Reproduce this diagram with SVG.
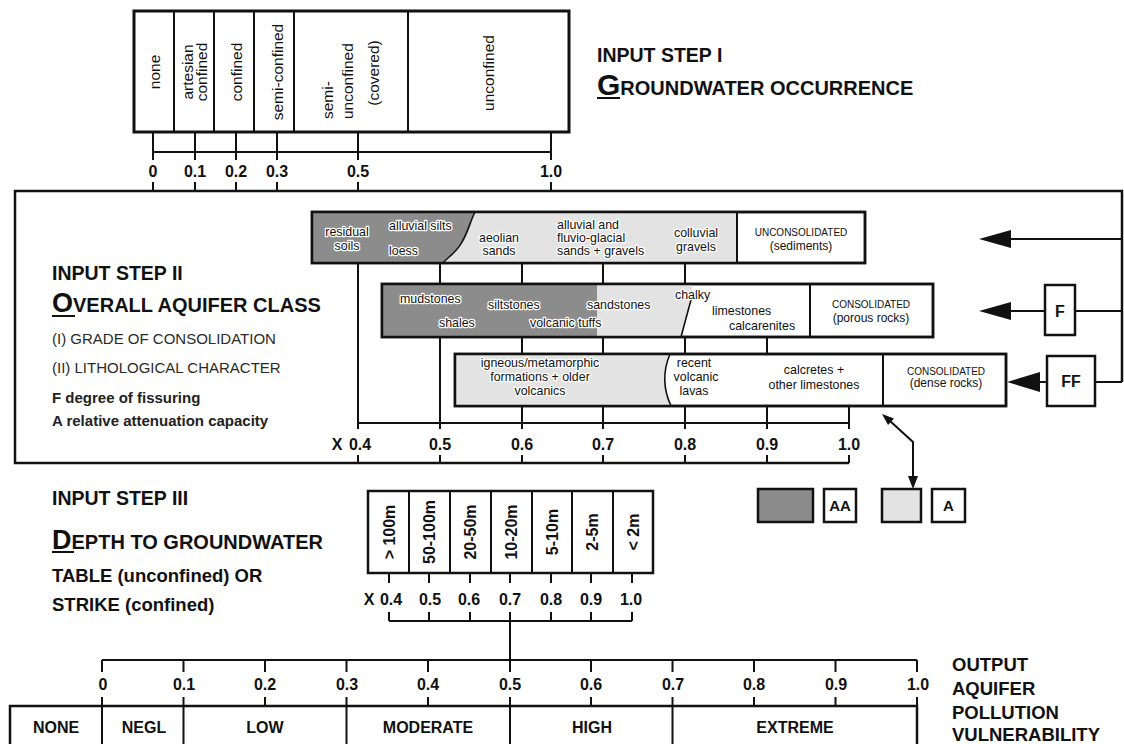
<svg xmlns="http://www.w3.org/2000/svg" width="1124" height="744" viewBox="0 0 1124 744">
<style>
.ln{stroke:#111;stroke-width:2;fill:none}
.bx{stroke:#111;stroke-width:2.5;fill:#fff}
.thin{stroke:#111;stroke-width:1.6;fill:none}
.dk{fill:#8c8c8c}
.lt{fill:#e3e3e3}
.ah{fill:#111}
text{font-family:"Liberation Sans",Arial,Helvetica,sans-serif;fill:#111}
.b{font-weight:bold}
.cell{font-size:15.5px}
.lab{font-size:16px;font-weight:bold;text-anchor:middle}
.rt{font-size:12.4px;stroke:#fff;stroke-width:2.5px;paint-order:stroke;stroke-linejoin:round}
.sc{font-size:10px;text-anchor:middle}
.sc2{font-size:12px;text-anchor:middle}
.m{text-anchor:middle}
.h1{font-size:19.5px;font-weight:bold}
.h2{font-size:20px;font-weight:bold}
.sub{font-size:15px;fill:#2a2a2a}
.sub2{font-size:15px;font-weight:bold;fill:#222}
.h3{font-size:18.5px;font-weight:bold}
.out{font-size:18.5px;font-weight:bold}
.bl{font-size:16px;font-weight:bold;text-anchor:middle}
</style>

<g id="connectors">
  <path class="ln" d="M153,132V160M195,132V160M236,132V160M277,132V160M358,132V160M551,132V160M153,152H551"/>
  <path class="ln" d="M153,182V191M195,182V191M236,182V191M277,182V191M358,182V191M551,182V191"/>
  <path class="bx" style="fill:none" d="M1122,382V191H15V463H849"/>
  <path class="ln" d="M358,263V429M440,263V284M440,337V429M522,263V284M522,337V354M522,406V429M603,263V284M603,337V354M603,406V429M685,263V284M685,337V354M685,406V429M767,337V354M767,406V429M849,406V429M358,423H849"/>
  <path class="ln" d="M358,455V463M440,455V463M522,455V463M603,455V463M685,455V463M767,455V463M849,455V463"/>
  <path class="ln" d="M1008,239H1122M1008,311H1045M1075,311H1122M1038,382H1047M1095,382H1122"/>
  <polygon class="ah" points="979,239 1011,230 1011,248"/>
  <polygon class="ah" points="979,311 1011,302 1011,320"/>
  <polygon class="ah" points="1007,382 1040,372 1040,392"/>
  <path class="ln" d="M890,421L913,442V477"/>
  <polygon class="ah" points="882,414 894,418.5 888,425"/>
  <polygon class="ah" points="913,489 908,476 918,476"/>
  <path class="ln" d="M389,573V583M429,573V583M470,573V583M510,573V583M551,573V583M591,573V583M632,573V583"/>
  <path class="ln" d="M389,612V621M429,612V621M470,612V621M510,612V621M551,612V621M591,612V621M632,612V621M389,621H632M510,621V660"/>
  <path class="ln" d="M102,660H917M102,660V672M183.5,660V672M265,660V672M346.5,660V672M428,660V672M510,660V672M591,660V672M672.5,660V672M754,660V672M835.5,660V672M917,660V672"/>
  <path class="ln" d="M102,697V706M183.5,697V706M265,697V706M346.5,697V706M428,697V706M510,697V706M591,697V706M672.5,697V706M754,697V706M835.5,697V706M917,697V706"/>
</g>

<g id="step1-box">
  <rect class="bx" x="134" y="11" width="435" height="121" style="stroke-width:3"/>
  <path class="ln" d="M174,11V132M214,11V132M254,11V132M294,11V132M408,11V132"/>
  <text class="cell m" transform="translate(154,72) rotate(-90)" dy="5.5">none</text>
  <text class="cell m" transform="translate(187,72) rotate(-90)" dy="5.5">artesian</text>
  <text class="cell m" transform="translate(201,72) rotate(-90)" dy="5.5">confined</text>
  <text class="cell m" transform="translate(236,72) rotate(-90)" dy="5.5">confined</text>
  <text class="cell m" transform="translate(277,72) rotate(-90)" dy="5.5">semi-confined</text>
  <text class="cell" transform="translate(327,119) rotate(-90)" dy="5.5">semi-</text>
  <text class="cell" transform="translate(347,119) rotate(-90)" dy="5.5">unconfined</text>
  <text class="cell m" transform="translate(373,73) rotate(-90)" dy="5.5">(covered)</text>
  <text class="cell m" transform="translate(488,73) rotate(-90)" dy="5.5">unconfined</text>
  <text class="lab" x="153" y="177">0</text>
  <text class="lab" x="195" y="177">0.1</text>
  <text class="lab" x="236" y="177">0.2</text>
  <text class="lab" x="277" y="177">0.3</text>
  <text class="lab" x="358" y="177">0.5</text>
  <text class="lab" x="551" y="177">1.0</text>
</g>

<g id="step1-title">
  <text class="h1" x="597" y="62">INPUT STEP I</text>
  <text class="h2" x="597" y="95"><tspan font-size="30">G</tspan>ROUNDWATER OCCURRENCE</text>
  <line class="ln" x1="597" y1="98" x2="620" y2="98"/>
</g>

<g id="step2-title">
  <text class="h1" x="52" y="280">INPUT STEP II</text>
  <text class="h2" x="52" y="312"><tspan font-size="27">O</tspan>VERALL AQUIFER CLASS</text>
  <line class="ln" x1="52" y1="316" x2="75" y2="316"/>
  <text class="sub" x="52" y="344">(I) GRADE OF CONSOLIDATION</text>
  <text class="sub" x="52" y="373">(II) LITHOLOGICAL CHARACTER</text>
  <text class="sub2" x="52" y="403">F degree of fissuring</text>
  <text class="sub2" x="52" y="426">A relative attenuation capacity</text>
</g>

<g id="row-unconsolidated">
  <rect class="bx" x="312" y="212" width="553" height="51"/>
  <path class="dk" d="M313,213H475C470,222 468,232 462,242C457,252 449,256 443,262H313Z"/>
  <path class="lt" d="M475,213H736V262H443C449,256 457,252 462,242C468,232 470,222 475,213Z"/>
  <path class="thin" d="M475,212C470,222 468,232 462,242C457,252 449,256 443,263"/>
  <path class="ln" d="M737,212V263"/>
  <rect x="312" y="212" width="553" height="51" fill="none" stroke="#111" stroke-width="2.5"/>
  <text class="rt m" x="347" y="236">residual</text>
  <text class="rt m" x="347" y="250">soils</text>
  <text class="rt" x="389" y="230">alluvial silts</text>
  <text class="rt" x="389" y="255">loess</text>
  <text class="rt m" x="499" y="242">aeolian</text>
  <text class="rt m" x="499" y="255">sands</text>
  <text class="rt" x="557" y="229">alluvial and</text>
  <text class="rt" x="557" y="242">fluvio-glacial</text>
  <text class="rt" x="557" y="255">sands + gravels</text>
  <text class="rt m" x="696" y="237">colluvial</text>
  <text class="rt m" x="696" y="251">gravels</text>
  <text class="sc" x="801" y="236">UNCONSOLIDATED</text>
  <text class="sc2" x="801" y="250">(sediments)</text>
</g>

<g id="row-porous">
  <rect class="bx" x="382" y="284" width="551" height="53"/>
  <rect class="dk" x="383" y="285" width="214" height="51"/>
  <path class="lt" d="M597,285H693L681.5,336H597Z"/>
  <path class="thin" d="M692,296L681,337"/>
  <path class="ln" d="M810,284V337"/>
  <rect x="382" y="284" width="551" height="53" fill="none" stroke="#111" stroke-width="2.5"/>
  <text class="rt" x="400" y="303">mudstones</text>
  <text class="rt" x="439" y="327">shales</text>
  <text class="rt" x="488" y="309">siltstones</text>
  <text class="rt" x="530" y="327">volcanic tuffs</text>
  <text class="rt" x="587" y="309">sandstones</text>
  <text class="rt" x="675" y="299">chalky</text>
  <text class="rt" x="712" y="315">limestones</text>
  <text class="rt" x="729" y="330">calcarenites</text>
  <text class="sc" x="871" y="308">CONSOLIDATED</text>
  <text class="sc2" x="871" y="322">(porous rocks)</text>
</g>

<g id="row-dense">
  <rect class="bx" x="455" y="354" width="551" height="52"/>
  <path class="lt" d="M456,355H670Q659,380 671,405H456Z"/>
  <path class="thin" d="M670,354Q659,380 671,406"/>
  <path class="ln" d="M883,354V406"/>
  <rect x="455" y="354" width="551" height="52" fill="none" stroke="#111" stroke-width="2.5"/>
  <text class="rt m" x="540" y="367">igneous/metamorphic</text>
  <text class="rt m" x="540" y="381">formations + older</text>
  <text class="rt m" x="540" y="395">volcanics</text>
  <text class="rt m" x="694" y="367">recent</text>
  <text class="rt m" x="696" y="381">volcanic</text>
  <text class="rt m" x="694" y="395">lavas</text>
  <text class="rt m" x="814" y="374">calcretes +</text>
  <text class="rt m" x="814" y="389">other limestones</text>
  <text class="sc" x="946" y="375">CONSOLIDATED</text>
  <text class="sc2" x="946" y="387">(dense rocks)</text>
</g>

<g id="class-scale">
  <text class="lab" x="337" y="450">X</text>
  <text class="lab" x="360" y="450">0.4</text>
  <text class="lab" x="440" y="450">0.5</text>
  <text class="lab" x="522" y="450">0.6</text>
  <text class="lab" x="603" y="450">0.7</text>
  <text class="lab" x="685" y="450">0.8</text>
  <text class="lab" x="767" y="450">0.9</text>
  <text class="lab" x="849" y="450">1.0</text>
</g>

<g id="box-F">
  <rect class="bx" x="1045" y="285" width="30" height="50"/>
  <text class="lab" x="1060" y="317">F</text>
</g>
<g id="box-FF">
  <rect class="bx" x="1047" y="356" width="48" height="50"/>
  <text class="lab" x="1071" y="387">FF</text>
</g>

<g id="legend">
  <rect class="bx" x="758" y="489" width="55" height="33" style="fill:#8c8c8c"/>
  <rect class="bx" x="824" y="489" width="32" height="33"/>
  <text class="b m" x="840" y="511" font-size="15">AA</text>
  <rect class="bx" x="882" y="489" width="39" height="33" style="fill:#e3e3e3"/>
  <rect class="bx" x="932" y="489" width="33" height="33"/>
  <text class="b m" x="948.5" y="511" font-size="15">A</text>
</g>

<g id="step3-title">
  <text class="h1" x="52" y="505">INPUT STEP III</text>
  <text class="h2" x="52" y="549"><tspan font-size="27">D</tspan>EPTH TO GROUNDWATER</text>
  <line class="ln" x1="52" y1="552" x2="74" y2="552"/>
  <text class="h3" x="52" y="582">TABLE (unconfined) OR</text>
  <text class="h3" x="52" y="611">STRIKE (confined)</text>
</g>

<g id="depth-box">
  <rect class="bx" x="368" y="491" width="285" height="82"/>
  <path class="ln" d="M409,491V573M450,491V573M491,491V573M532,491V573M572,491V573M613,491V573"/>
  <text class="lab" transform="translate(389,532) rotate(-90)" dy="5.6">&gt; 100m</text>
  <text class="lab" transform="translate(429.5,532) rotate(-90)" dy="5.6">50-100m</text>
  <text class="lab" transform="translate(470.5,532) rotate(-90)" dy="5.6">20-50m</text>
  <text class="lab" transform="translate(511.5,532) rotate(-90)" dy="5.6">10-20m</text>
  <text class="lab" transform="translate(552,532) rotate(-90)" dy="5.6">5-10m</text>
  <text class="lab" transform="translate(592.5,532) rotate(-90)" dy="5.6">2-5m</text>
  <text class="lab" transform="translate(633,532) rotate(-90)" dy="5.6">&lt; 2m</text>
  <text class="lab" x="369" y="605">X</text>
  <text class="lab" x="391" y="605">0.4</text>
  <text class="lab" x="430" y="605">0.5</text>
  <text class="lab" x="469" y="605">0.6</text>
  <text class="lab" x="510" y="605">0.7</text>
  <text class="lab" x="551" y="605">0.8</text>
  <text class="lab" x="591" y="605">0.9</text>
  <text class="lab" x="631" y="605">1.0</text>
</g>

<g id="output-scale">
  <text class="lab" x="103" y="690">0</text>
  <text class="lab" x="184" y="690">0.1</text>
  <text class="lab" x="265" y="690">0.2</text>
  <text class="lab" x="347" y="690">0.3</text>
  <text class="lab" x="428" y="690">0.4</text>
  <text class="lab" x="510" y="690">0.5</text>
  <text class="lab" x="591" y="690">0.6</text>
  <text class="lab" x="673" y="690">0.7</text>
  <text class="lab" x="754" y="690">0.8</text>
  <text class="lab" x="836" y="690">0.9</text>
  <text class="lab" x="918" y="690">1.0</text>
</g>

<g id="output-box">
  <rect class="bx" x="10" y="706" width="907" height="48"/>
  <path class="ln" d="M102,706V754M183.5,706V754M346.5,706V754M510,706V754M672.5,706V754"/>
  <text class="bl" x="56" y="733">NONE</text>
  <text class="bl" x="144" y="733">NEGL</text>
  <text class="bl" x="265" y="733">LOW</text>
  <text class="bl" x="428" y="733">MODERATE</text>
  <text class="bl" x="592" y="733">HIGH</text>
  <text class="bl" x="795" y="733">EXTREME</text>
</g>

<g id="output-title">
  <text class="out" x="952" y="671">OUTPUT</text>
  <text class="out" x="952" y="695">AQUIFER</text>
  <text class="out" x="952" y="719">POLLUTION</text>
  <text class="out" x="952" y="741">VULNERABILITY</text>
</g>
</svg>
